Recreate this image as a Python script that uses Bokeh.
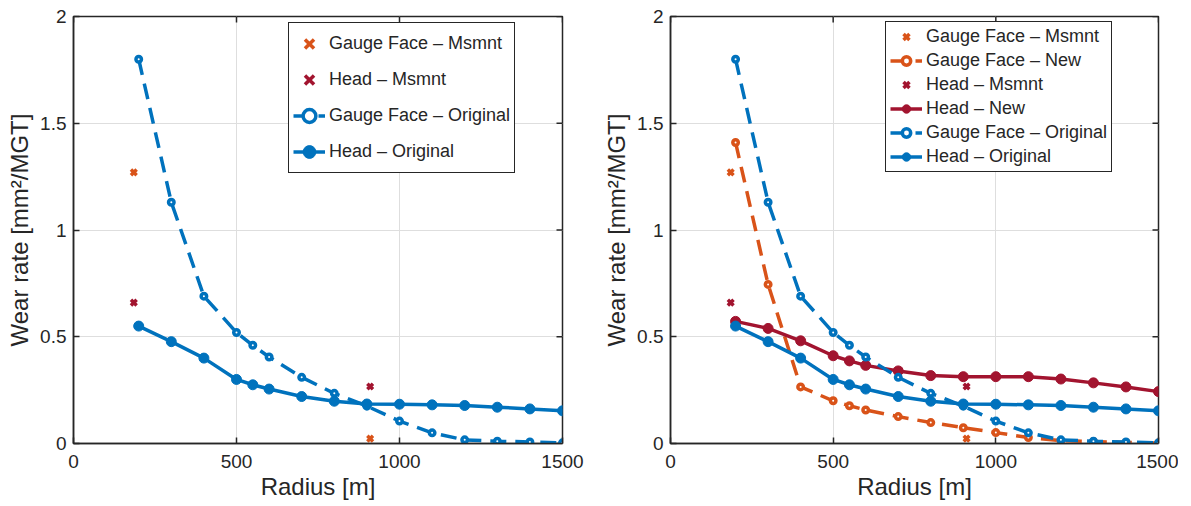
from bokeh.plotting import figure
from bokeh.models import (Range1d, FixedTicker, Legend, LegendItem,
                          CustomJSTickFormatter)
from bokeh.layouts import row
from bokeh.embed import file_html
from bokeh.resources import INLINE

# ---------------- data ----------------
radius = [200, 300, 400, 500, 550, 600, 700, 800, 900, 1000, 1100, 1200, 1300, 1400, 1500]
gf_original = [1.80, 1.13, 0.69, 0.52, 0.46, 0.405, 0.31, 0.235, 0.175, 0.105, 0.05, 0.017, 0.011, 0.007, 0.003]
head_original = [0.55, 0.477, 0.40, 0.30, 0.275, 0.255, 0.22, 0.198, 0.185, 0.184, 0.181, 0.178, 0.17, 0.162, 0.153]
gf_new = [1.41, 0.745, 0.265, 0.20, 0.177, 0.157, 0.126, 0.098, 0.074, 0.051, 0.028, 0.013, 0.009, 0.005, 0.002]
head_new = [0.572, 0.539, 0.481, 0.411, 0.387, 0.366, 0.34, 0.318, 0.313, 0.313, 0.313, 0.302, 0.284, 0.265, 0.243]
msmnt_radius = [185, 910]
gf_msmnt = [1.27, 0.023]
head_msmnt = [0.66, 0.267]
x_ticks = [0, 500, 1000, 1500]
y_ticks = [0, 0.5, 1, 1.5, 2]

BLUE = "#0072BD"
ORANGE = "#D95319"
RED = "#A2142F"
TXT = "#262626"
FONT = "Liberation Sans"
FH = 427
X0, X1, Y0, Y1 = 0, 1500, 0, 2
TICK_PX = 6


def make_fig(with_new, fw, b_left, b_right):
    p = figure(frame_width=fw, frame_height=FH, output_backend="svg",
               toolbar_location=None, x_range=Range1d(X0, X1), y_range=Range1d(Y0, Y1),
               min_border_left=b_left, min_border_right=b_right,
               min_border_top=16, min_border_bottom=50)
    p.background_fill_color = "white"
    p.border_fill_color = "white"
    p.outline_line_color = TXT
    p.outline_line_width = 1.5
    p.outline_line_alpha = 1

    p.xaxis.ticker = FixedTicker(ticks=x_ticks)
    p.yaxis.ticker = FixedTicker(ticks=y_ticks)
    p.yaxis.formatter = CustomJSTickFormatter(code="return String(tick)")
    for ax in (p.xaxis, p.yaxis):
        ax.axis_line_color = TXT
        ax.axis_line_width = 1.5
        ax.major_tick_in = TICK_PX
        ax.major_tick_out = 0
        ax.major_tick_line_color = TXT
        ax.major_tick_line_width = 1.5
        ax.minor_tick_line_color = None
        ax.major_label_text_font = FONT
        ax.major_label_text_font_size = "19px"
        ax.major_label_text_color = TXT
        ax.axis_label_text_font = FONT
        ax.axis_label_text_font_size = "24px"
        ax.axis_label_text_font_style = "normal"
        ax.axis_label_text_color = TXT
    p.xaxis.axis_label = "Radius [m]"
    p.yaxis.axis_label = "Wear rate [mm²/MGT]"
    p.xaxis.major_label_standoff = 11
    p.yaxis.major_label_standoff = 7
    p.xaxis.axis_label_standoff = 2
    p.yaxis.axis_label_standoff = 4

    p.grid.grid_line_color = "#dedede"
    p.grid.grid_line_width = 1

    # box ticks on top and right edges (MATLAB "box on")
    dy = TICK_PX * (Y1 - Y0) / FH
    dx = TICK_PX * (X1 - X0) / fw
    p.segment(x0=x_ticks, y0=[Y1] * len(x_ticks), x1=x_ticks, y1=[Y1 - dy] * len(x_ticks),
              line_color=TXT, line_width=1.5)
    p.segment(x0=[X1] * len(y_ticks), y0=y_ticks, x1=[X1 - dx] * len(y_ticks), y1=y_ticks,
              line_color=TXT, line_width=1.5)

    items = []
    gfm = p.scatter(msmnt_radius, gf_msmnt, marker="x", size=8, line_width=3.5, color=ORANGE)
    items.append(LegendItem(label="Gauge Face – Msmnt", renderers=[gfm]))
    if with_new:
        l1 = p.line(radius, gf_new, line_width=3.5, color=ORANGE, line_dash="16 9")
        s1 = p.scatter(radius, gf_new, marker="circle", size=5.5, line_width=3.5,
                       line_color=ORANGE, fill_color="white")
        items.append(LegendItem(label="Gauge Face – New", renderers=[l1, s1]))
    hm = p.scatter(msmnt_radius, head_msmnt, marker="x", size=8, line_width=3.5, color=RED)
    items.append(LegendItem(label="Head – Msmnt", renderers=[hm]))
    if with_new:
        l2 = p.line(radius, head_new, line_width=3.5, color=RED)
        s2 = p.scatter(radius, head_new, marker="circle", size=10, color=RED)
        items.append(LegendItem(label="Head – New", renderers=[l2, s2]))
    l3 = p.line(radius, gf_original, line_width=3.5, color=BLUE, line_dash="16 9")
    s3 = p.scatter(radius, gf_original, marker="circle", size=5.5, line_width=3.5,
                   line_color=BLUE, fill_color="white")
    items.append(LegendItem(label="Gauge Face – Original", renderers=[l3, s3]))
    l4 = p.line(radius, head_original, line_width=3.5, color=BLUE)
    s4 = p.scatter(radius, head_original, marker="circle", size=10, color=BLUE)
    items.append(LegendItem(label="Head – Original", renderers=[l4, s4]))

    if with_new:
        lh, sp, loc = 21, 3, (215, 271)
    else:
        lh, sp, loc = 33, 3, (215, 270)
    leg = Legend(items=items, location=loc, label_text_font=FONT, label_text_font_size="18px",
                 label_text_color=TXT, label_height=lh, glyph_height=lh, glyph_width=32,
                 label_standoff=4, spacing=sp, padding=4, margin=0,
                 border_line_color=TXT, border_line_width=1.5, border_line_alpha=1,
                 background_fill_color="white", background_fill_alpha=1)
    p.add_layout(leg)
    return p


p1 = make_fig(False, 489, 73, 38)
p2 = make_fig(True, 488, 65, 20)
layout = row(p1, p2)

open("out.html", "w").write(file_html(layout, INLINE))
